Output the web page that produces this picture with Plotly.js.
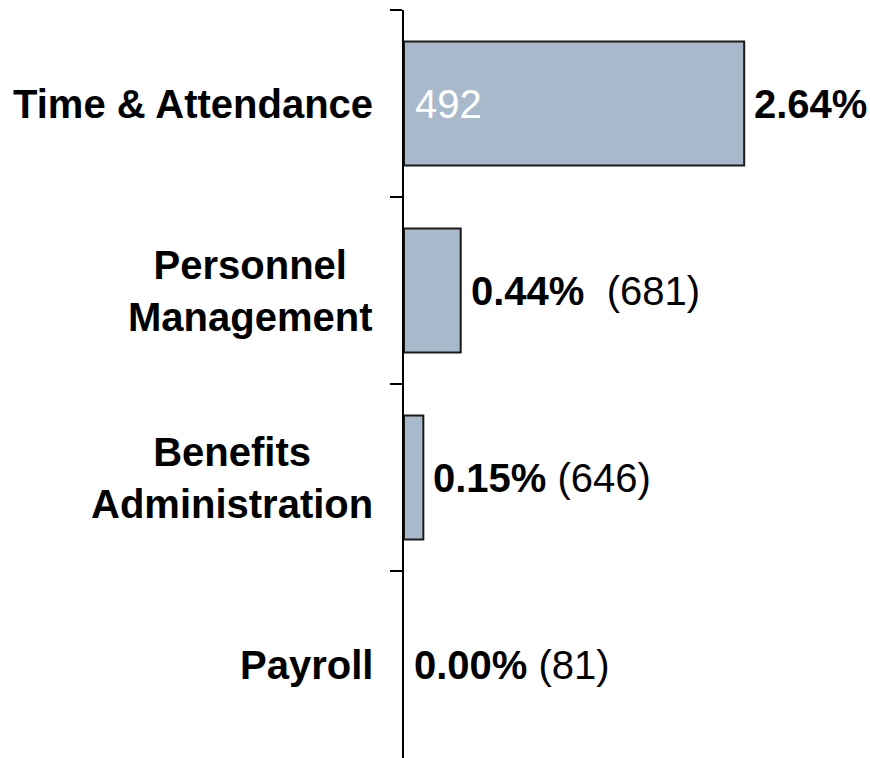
<!DOCTYPE html>
<html>
<head>
<meta charset="utf-8">
<script src="https://cdn.plot.ly/plotly-3.0.1.min.js"></script>
<style>
  html, body { margin: 0; padding: 0; background: #ffffff; }
  #chart { width: 870px; height: 758px; }
</style>
</head>
<body>
<div id="chart"></div>
<script>
const categories = ["Time & Attendance", "Personnel Management", "Benefits Administration", "Payroll"];
const categoryLabels = ["Time & Attendance", "Personnel<br>Management", "Benefits<br>Administration", "Payroll"];
const shares = [2.64, 0.44, 0.15, 0.0];
const shareLabels = ["2.64%", "0.44%", "0.15%", "0.00%"];
const counts = [492, 681, 646, 81];
// first bar shows its count inside the bar, the rest after the share
const countInside = [true, false, false, false];
const countGap = ["", "\u00a0\u00a0", "\u00a0", "\u00a0"];

const FONT = "Liberation Sans, Arial, sans-serif";

const annotations = [];

categories.forEach((cat, i) => {
  annotations.push({
    xref: "paper",
    yref: "y",
    x: 0,
    y: cat,
    xanchor: "right",
    xshift: -29,
    text: "<b>" + categoryLabels[i] + "</b>",
    align: "center",
    showarrow: false,
    font: { family: FONT, size: 40, color: "#000000" },
  });

  const tail = countInside[i] ? "" : countGap[i] + "(" + counts[i] + ")";
  annotations.push({
    xref: "x",
    yref: "y",
    x: shares[i],
    y: cat,
    xanchor: "left",
    xshift: 8,
    text: "<b>" + shareLabels[i] + "</b>" + tail,
    showarrow: false,
    font: { family: FONT, size: 40, color: "#000000" },
  });

  if (countInside[i]) {
    annotations.push({
      xref: "x",
      yref: "y",
      x: 0,
      y: cat,
      xanchor: "left",
      xshift: 9,
      text: String(counts[i]),
      showarrow: false,
      font: { family: FONT, size: 40, color: "#ffffff" },
    });
  }
});

Plotly.newPlot(
  "chart",
  [
    {
      type: "bar",
      orientation: "h",
      x: shares,
      y: categories,
      marker: {
        color: "#a9b9cc",
        // no outline on empty bars, otherwise it doubles up on the axis line
        line: { color: "#1a1a1a", width: shares.map((v) => (v > 0 ? 2 : 0)) },
      },
      hoverinfo: "skip",
    },
  ],
  {
    width: 870,
    height: 758,
    margin: { l: 404, r: 15, t: 10, b: 0 },
    paper_bgcolor: "#ffffff",
    plot_bgcolor: "#ffffff",
    showlegend: false,
    bargap: 0.337,
    xaxis: {
      range: [0, 3.5],
      visible: false,
      fixedrange: true,
    },
    yaxis: {
      type: "category",
      categoryorder: "array",
      categoryarray: categories,
      range: [3.5, -0.5],
      showline: true,
      linecolor: "#000000",
      linewidth: 2,
      ticks: "outside",
      tickson: "boundaries",
      ticklen: 12,
      tickwidth: 2,
      tickcolor: "#000000",
      showticklabels: false,
      showgrid: false,
      zeroline: false,
      fixedrange: true,
    },
    annotations,
  },
  { displayModeBar: false, staticPlot: true }
);
</script>
</body>
</html>
